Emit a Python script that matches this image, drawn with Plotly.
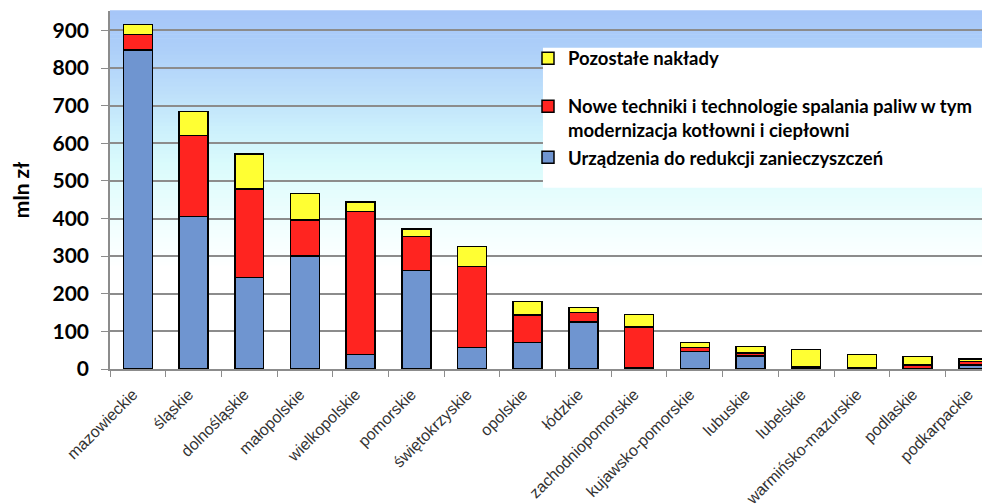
import plotly.graph_objects as go

categories = ["mazowieckie", "śląskie", "dolnośląskie", "małopolskie", "wielkopolskie",
              "pomorskie", "świętokrzyskie", "opolskie", "łódzkie", "zachodniopomorskie",
              "kujawsko-pomorskie", "lubuskie", "lubelskie", "warmińsko-mazurskie",
              "podlaskie", "podkarpackie"]
urzadzenia = [848, 405, 243, 301, 39, 262, 57, 70, 125, 4, 46, 34, 5, 4, 2, 11]
nowe_techniki = [41, 215, 235, 95, 379, 90, 216, 73, 25, 107, 11, 8, 0.5, 0.5, 8, 9]
pozostale = [27, 65, 94, 70, 26, 20, 53, 37, 13, 34, 14, 18, 46, 34, 23, 7]
y_ticks = [0, 100, 200, 300, 400, 500, 600, 700, 800, 900]

name_u = "Urządzenia do redukcji zanieczyszczeń"
name_n = "Nowe techniki i technologie spalania paliw w tym<br>modernizacja kotłowni i ciepłowni"
name_p = "Pozostałe nakłady"

line = dict(color="black", width=1.5)
fig = go.Figure()
fig.add_trace(go.Bar(x=categories, y=urzadzenia, name=name_u, legendgroup="b", legendrank=3,
                     marker=dict(color="#6f95d0", line=line)))
fig.add_trace(go.Bar(x=categories, y=nowe_techniki, name=name_n, legendgroup="b", legendrank=2,
                     marker=dict(color="#ff2420", line=line)))
fig.add_trace(go.Bar(x=categories, y=pozostale, name=name_p, legendgroup="a", legendrank=1,
                     marker=dict(color="#ffff33", line=line)))

# gradient background as bands
stops = [(0.0, (255, 255, 255)), (0.28, (255, 255, 255)), (0.36, (246, 255, 255)),
         (0.47, (232, 253, 253)), (0.57, (218, 251, 252)), (0.67, (204, 240, 252)),
         (0.78, (188, 222, 250)), (0.90, (172, 206, 249)), (1.0, (166, 198, 248))]

def col_at(t):
    for (a, ca), (b, cb) in zip(stops[:-1], stops[1:]):
        if a <= t <= b:
            f = (t - a) / (b - a) if b > a else 0
            return "rgb(%d,%d,%d)" % tuple(round(ca[i] + (cb[i] - ca[i]) * f) for i in range(3))
    return "rgb(%d,%d,%d)" % stops[-1][1]

shapes = []
n = 90
for i in range(n):
    y0 = i / n
    y1 = (i + 1) / n
    shapes.append(dict(type="rect", xref="x domain", yref="y domain", x0=0, x1=1,
                       y0=y0, y1=y1 + 0.002, fillcolor=col_at((y0 + y1) / 2),
                       line=dict(width=0), layer="below"))
# legend white box
shapes.append(dict(type="rect", xref="paper", yref="paper",
                   x0=0.492, x1=0.991, y0=0.506, y1=0.897,
                   fillcolor="white", line=dict(width=0), layer="above"))

fig.update_layout(
    width=982, height=496,
    margin=dict(l=102, r=0, t=3, b=135),
    barmode="stack", bargap=0.48,
    paper_bgcolor="white", plot_bgcolor="rgba(0,0,0,0)",
    shapes=shapes,
    showlegend=True,
    legend=dict(x=0.475, y=0.92, xanchor="left", yanchor="top",
                bgcolor="rgba(0,0,0,0)", traceorder="grouped",
                tracegroupgap=21, valign="top",
                font=dict(family="Lato", size=18.5, color="black", weight="bold")),
    font=dict(family="Liberation Sans"),
)
fig.update_xaxes(
    range=[-0.5, 15.3], tickangle=-45, ticks="outside", tickson="boundaries",
    ticklen=6, tickcolor="#8c8c8c", showline=True, linecolor="#8c8c8c", linewidth=1.5,
    tickfont=dict(family="Liberation Sans", size=16, color="#333333"),
    ticklabelstandoff=8, ticklabelshift=-5, automargin=False,
    showgrid=False,
)
fig.update_yaxes(
    range=[0, 951.5], tickvals=y_ticks, ticks="outside", ticklen=7, tickcolor="#8c8c8c",
    showline=True, linecolor="#8c8c8c", linewidth=1.5,
    showgrid=True, gridcolor="#8c8c8c", gridwidth=1.5, zeroline=False,
    tickfont=dict(family="Lato", size=21, color="black", weight="bold"),
    ticklabelstandoff=8, automargin=False,
    title=dict(text="mln zł", standoff=18,
               font=dict(family="Lato", size=21, color="black", weight="bold")),
)
fig.write_html("out.html")
